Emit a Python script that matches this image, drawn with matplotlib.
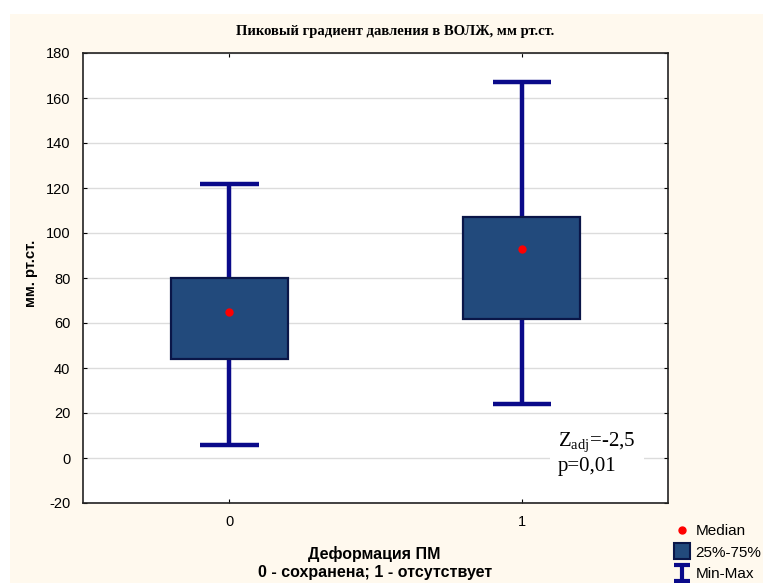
import numpy as np
import matplotlib
matplotlib.use("Agg")
import matplotlib.pyplot as plt
from matplotlib.patches import Rectangle
from matplotlib.lines import Line2D
from matplotlib.path import Path

plt.rcParams["axes.unicode_minus"] = False
plt.rcParams["mathtext.fontset"] = "custom"
plt.rcParams["mathtext.rm"] = "Liberation Serif"

# data
groups = ["0", "1"]
mins = [6, 24]
q25 = [44, 62]
medians = [65, 93]
q75 = [80, 107]
maxs = [122, 167]

bg = "#FFF9EE"
box_fill = "#224A7C"
box_edge = "#0A1648"
whisk = "#0A0A8A"

fig = plt.figure(figsize=(7.63, 5.83), dpi=100, facecolor="white")
fig.patches.append(Rectangle((10 / 763, 0), 1, 1 - 14 / 583, transform=fig.transFigure,
                             facecolor=bg, edgecolor="none", zorder=-10))

ax = fig.add_axes([83 / 763, 1 - 503 / 583, 585 / 763, 450 / 583])
ax.set_facecolor("white")

x = np.arange(len(groups))
bw = 0.4
cw = 0.2
for i in x:
    ax.plot([i, i], [mins[i], maxs[i]], color=whisk, lw=3.2, zorder=2, solid_capstyle="butt")
    ax.plot([i - cw / 2, i + cw / 2], [maxs[i]] * 2, color=whisk, lw=3.2, zorder=2, solid_capstyle="butt")
    ax.plot([i - cw / 2, i + cw / 2], [mins[i]] * 2, color=whisk, lw=3.2, zorder=2, solid_capstyle="butt")
    ax.add_patch(Rectangle((i - bw / 2, q25[i]), bw, q75[i] - q25[i], facecolor=box_fill,
                           edgecolor=box_edge, lw=1.6, zorder=3))
    ax.plot(i, medians[i], "o", color="red", ms=5, zorder=4)

ax.set_xlim(-0.5, 1.5)
ax.set_ylim(-20, 180)
ax.set_xticks(x)
ax.set_xticklabels(groups)
ax.set_yticks(np.arange(-20, 181, 20))
ax.yaxis.grid(True, color="#DCDCDC", lw=1)
ax.set_axisbelow(True)
ax.tick_params(direction="in", top=True, right=True, labelsize=10.5, length=3, pad=9)
for lab in ax.get_xticklabels() + ax.get_yticklabels():
    lab.set_family("Liberation Sans")
for s in ax.spines.values():
    s.set_linewidth(1.2)
    s.set_color("#222222")

ax.text(0.812, 0.11, "$\\mathrm{Z_{adj}}$=-2,5\np=0,01", transform=ax.transAxes,
        family="Liberation Serif", fontsize=15, va="center", ha="left", linespacing=1.25,
        bbox=dict(facecolor="white", edgecolor="none", pad=6), zorder=5)

fig.text(395 / 763, 1 - 32 / 583, "Пиковый градиент давления в ВОЛЖ, мм рт.ст.",
         family="Liberation Serif", weight="bold", fontsize=10.5, ha="center", va="center")
fig.text(374 / 763, 1 - 554 / 583, "Деформация ПМ", family="Liberation Sans",
         weight="bold", fontsize=11.5, ha="center", va="center")
fig.text(375 / 763, 1 - 573 / 583, "0 - сохранена; 1 - отсутствует", family="Liberation Sans",
         weight="bold", fontsize=11.5, ha="center", va="center")
fig.text(31 / 763, 1 - 273 / 583, "мм. рт.ст.", family="Liberation Sans", weight="bold",
         fontsize=10.7, ha="center", va="center", rotation=90)

# I-beam marker for Min-Max
ibeam = Path([(-0.5, 0.5), (0.5, 0.5), (0, 0.5), (0, -0.5), (-0.5, -0.5), (0.5, -0.5)],
             [Path.MOVETO, Path.LINETO, Path.MOVETO, Path.LINETO, Path.MOVETO, Path.LINETO])

handles = [Line2D([], [], ls="none", marker="o", color="red", ms=5),
           Line2D([], [], ls="none", marker="s", mfc=box_fill, mec=box_edge, mew=1.5, ms=12),
           Line2D([], [], ls="none", marker=ibeam, mfc="none", mec=whisk, mew=3, ms=11)]
leg = fig.legend(handles, ["Median", "25%-75%", "Min-Max"], loc="upper left",
                 bbox_to_anchor=(674 / 763, 1 - 524 / 583), frameon=False,
                 prop={"family": "Liberation Sans", "size": 11}, handlelength=1.0,
                 handletextpad=0.4, labelspacing=0.5, borderpad=0, borderaxespad=0)

fig.savefig("out.png", dpi=100, facecolor=fig.get_facecolor())
